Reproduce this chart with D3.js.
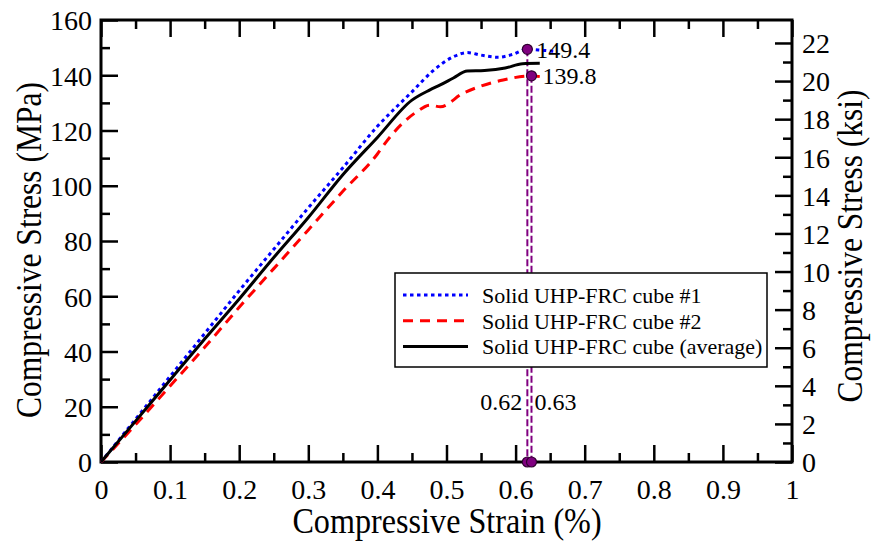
<!DOCTYPE html>
<html>
<head>
<meta charset="utf-8">
<script src="https://cdn.jsdelivr.net/npm/d3@7"></script>
<style>
  body { margin: 0; background: #fff; }
  svg text { font-family: "Liberation Serif", "Times New Roman", serif; fill: #000; }
  .domain { display: none; }
</style>
</head>
<body>
<svg id="chart" width="871" height="541"></svg>
<script>
// strain (%) / stress (MPa)
var cube1Strain = [0, 0.05, 0.1, 0.15, 0.2, 0.25, 0.3, 0.35, 0.4, 0.45, 0.48, 0.51, 0.53, 0.55, 0.575, 0.595, 0.617, 0.64, 0.66];
var cube1Stress = [0, 15.5, 31, 46.5, 62, 77, 92, 106.5, 121.5, 134, 141.5, 146.7, 148.2, 147.3, 146.5, 147.5, 149.4, 149, 148.6];

var cube2Strain = [0, 0.05, 0.1, 0.15, 0.2, 0.25, 0.3, 0.35, 0.4, 0.413, 0.457, 0.476, 0.491, 0.524, 0.548, 0.582, 0.623, 0.635];
var cube2Stress = [0, 13.5, 27.5, 41.5, 56, 70, 84, 98, 111.5, 116, 126.8, 129.2, 128.6, 133.5, 135.9, 138.3, 139.8, 139.5];

var avgStrain = [0, 0.05, 0.1, 0.15, 0.2, 0.25, 0.3, 0.35, 0.4, 0.45, 0.476, 0.491, 0.51, 0.53, 0.555, 0.585, 0.61, 0.635];
var avgStress = [0, 14.8, 29.7, 44.5, 59, 74, 88.5, 104, 117.5, 131, 134.7, 136.5, 139, 141.5, 141.7, 142.6, 144.2, 144.3];

var seriesNames = ["Solid UHP-FRC cube #1", "Solid UHP-FRC cube #2", "Solid UHP-FRC cube (average)"];

var peakStrain = [0.617, 0.623];
var peakStress = [149.4, 139.8];
var peakStressLabels = ["149.4", "139.8"];
var peakStrainLabels = ["0.62", "0.63"];

var xTicks = [0, 0.1, 0.2, 0.3, 0.4, 0.5, 0.6, 0.7, 0.8, 0.9, 1];
var yTicks = [0, 20, 40, 60, 80, 100, 120, 140, 160];
var ksiTicks = [0, 2, 4, 6, 8, 10, 12, 14, 16, 18, 20, 22];

var MPA_PER_KSI = 6.894757;

var svg = d3.select("#chart");
var pLeft = 101, pRight = 792, pTop = 20, pBottom = 462;

var x = d3.scaleLinear().domain([0, 1]).range([pLeft, pRight]);
var y = d3.scaleLinear().domain([0, 160]).range([pBottom, pTop]);
var yKsi = d3.scaleLinear().domain([0, 160 / MPA_PER_KSI]).range([pBottom, pTop]);

var fmtX = function(d) { return (d === 0 || d === 1) ? String(d) : d3.format(".1f")(d); };

// minor ticks first
svg.append("g").attr("transform", "translate(0," + pBottom + ")")
  .call(d3.axisBottom(x).tickValues(d3.range(0.05, 1, 0.1)).tickSize(-9).tickFormat(""));
svg.append("g").attr("transform", "translate(0," + pTop + ")")
  .call(d3.axisTop(x).tickValues(d3.range(0.05, 1, 0.1)).tickSize(-9).tickFormat(""));
svg.append("g").attr("transform", "translate(" + pLeft + ",0)")
  .call(d3.axisLeft(y).tickValues(d3.range(10, 160, 20)).tickSize(-9).tickFormat(""));
svg.append("g").attr("transform", "translate(" + pRight + ",0)")
  .call(d3.axisRight(yKsi).tickValues(d3.range(1, 23, 2)).tickSize(-9).tickFormat(""));

// major ticks
var xAxis = svg.append("g").attr("transform", "translate(0," + pBottom + ")")
  .call(d3.axisBottom(x).tickValues(xTicks).tickSize(-17).tickFormat(fmtX));
svg.append("g").attr("transform", "translate(0," + pTop + ")")
  .call(d3.axisTop(x).tickValues(xTicks).tickSize(-17).tickFormat(""));
var yAxis = svg.append("g").attr("transform", "translate(" + pLeft + ",0)")
  .call(d3.axisLeft(y).tickValues(yTicks).tickSize(-17));
var kAxis = svg.append("g").attr("transform", "translate(" + pRight + ",0)")
  .call(d3.axisRight(yKsi).tickValues(ksiTicks).tickSize(-17));

svg.selectAll(".tick line").attr("stroke", "#000").attr("stroke-width", 2.5);
svg.selectAll(".tick text").attr("font-size", 28);
yAxis.selectAll(".tick text").attr("x", -9).attr("dy", "0.35em");
kAxis.selectAll(".tick text").attr("x", 10).attr("dy", "0.35em");
xAxis.selectAll(".tick text").attr("y", 27).attr("dy", "0.35em");

// frame
svg.append("rect").attr("x", pLeft).attr("y", pTop)
  .attr("width", pRight - pLeft).attr("height", pBottom - pTop)
  .attr("fill", "none").attr("stroke", "#000").attr("stroke-width", 3);

// axis titles (the original type is a little condensed)
svg.append("text").attr("transform", "translate(447,533) scale(0.92,1)")
  .attr("text-anchor", "middle").attr("font-size", 35).text("Compressive Strain (%)");
svg.append("text").attr("transform", "translate(41,250) rotate(-90) scale(0.9,1)")
  .attr("text-anchor", "middle").attr("font-size", 35).text("Compressive Stress (MPa)");
svg.append("text").attr("transform", "translate(862,246) rotate(-90) scale(0.9,1)")
  .attr("text-anchor", "middle").attr("font-size", 35).text("Compressive Stress (ksi)");

// curves
var line = d3.line().x(function(d) { return x(d[0]); }).y(function(d) { return y(d[1]); }).curve(d3.curveMonotoneX);
var styles = [
  { color: "#0000ff", dash: "3.5,3.5", width: 3 },
  { color: "#ff0000", dash: "10,7", width: 3 },
  { color: "#000000", dash: null, width: 3 }
];
var series = [
  d3.zip(cube1Strain, cube1Stress),
  d3.zip(cube2Strain, cube2Stress),
  d3.zip(avgStrain, avgStress)
];

// peak guide lines
svg.selectAll(".guide").data(peakStrain).enter().append("line")
  .attr("x1", function(d) { return x(d); }).attr("x2", function(d) { return x(d); })
  .attr("y1", function(d, i) { return y(peakStress[i]); }).attr("y2", y(0))
  .attr("stroke", "#800080").attr("stroke-width", 2).attr("stroke-dasharray", "7,3");

series.forEach(function(s, i) {
  svg.append("path").datum(s).attr("d", line)
    .attr("fill", "none").attr("stroke", styles[i].color)
    .attr("stroke-width", styles[i].width)
    .attr("stroke-dasharray", styles[i].dash);
});

// peak markers
peakStrain.forEach(function(s, i) {
  [peakStress[i], 0].forEach(function(v) {
    svg.append("circle").attr("cx", x(s)).attr("cy", y(v)).attr("r", 5)
      .attr("fill", "#800080").attr("stroke", "#300030").attr("stroke-width", 1.2);
  });
  svg.append("text").attr("x", x(s) + 9 + i * 2).attr("y", y(peakStress[i]))
    .attr("dy", "0.35em").attr("font-size", 24).text(peakStressLabels[i]);
});
svg.append("text").attr("x", x(peakStrain[0]) - 5).attr("y", 402).attr("dy", "0.35em")
  .attr("text-anchor", "end").attr("font-size", 24).text(peakStrainLabels[0]);
svg.append("text").attr("x", x(peakStrain[1]) + 3).attr("y", 402).attr("dy", "0.35em")
  .attr("font-size", 24).text(peakStrainLabels[1]);

// legend
var lg = svg.append("g");
lg.append("rect").attr("x", 395).attr("y", 273).attr("width", 372).attr("height", 94)
  .attr("fill", "#fff").attr("stroke", "#000").attr("stroke-width", 1.5);
seriesNames.forEach(function(name, i) {
  var cy = 295 + i * 25.8;
  lg.append("line").attr("x1", 403).attr("x2", 468).attr("y1", cy).attr("y2", cy)
    .attr("stroke", styles[i].color).attr("stroke-width", 3)
    .attr("stroke-dasharray", styles[i].dash);
  lg.append("text").attr("x", 482).attr("y", cy).attr("dy", "0.35em")
    .attr("font-size", 22).text(name);
});
</script>
</body>
</html>
